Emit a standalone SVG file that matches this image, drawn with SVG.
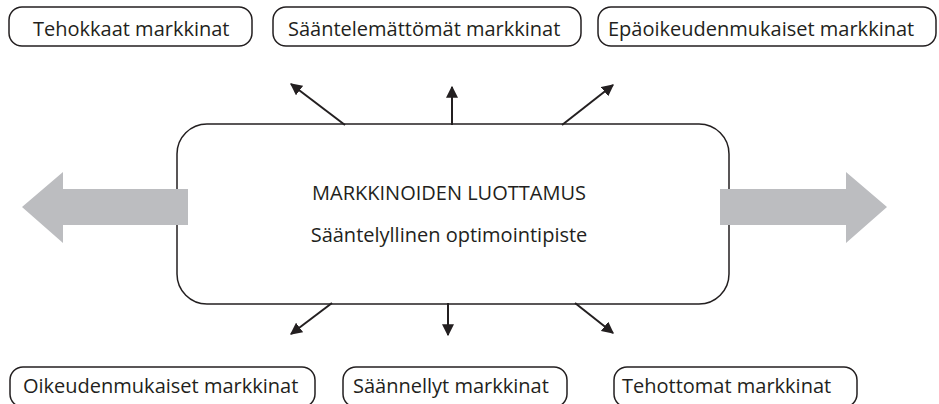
<svg xmlns="http://www.w3.org/2000/svg" width="939" height="404" viewBox="0 0 939 404">
<defs>
<style>
.box{fill:#fff;stroke:#231f20;stroke-width:1.5}
.lbl{font-family:"Open Sans","Noto Sans",sans-serif;font-size:20px;fill:#231f20}
.con{stroke:#231f20;stroke-width:2;fill:none;marker-end:url(#ah)}
.big{fill:#bcbdc0}
</style>
<marker id="ah" viewBox="0 0 10 10" refX="9" refY="5" markerWidth="6" markerHeight="6" orient="auto" markerUnits="strokeWidth">
<path d="M0,0 L10,5 L0,10 z" fill="#231f20"/>
</marker>
</defs>
<rect width="939" height="404" fill="#fff"/>
<g id="center">
<rect class="box" x="177" y="124" width="552" height="180" rx="30" ry="30" style="fill:none"/>
<text class="lbl" x="449" y="200" text-anchor="middle">MARKKINOIDEN LUOTTAMUS</text>
<text class="lbl" x="449" y="242" text-anchor="middle">Sääntelyllinen optimointipiste</text>
</g>
<g id="n1">
<rect class="box" x="9" y="7" width="243" height="39" rx="13"/>
<text class="lbl" x="33" y="36">Tehokkaat markkinat</text>
</g>
<g id="n2">
<rect class="box" x="273" y="7" width="308" height="39" rx="13"/>
<text class="lbl" x="288" y="36">Sääntelemättömät markkinat</text>
</g>
<g id="n3">
<rect class="box" x="598" y="7" width="338" height="39" rx="13"/>
<text class="lbl" x="608" y="36">Epäoikeudenmukaiset markkinat</text>
</g>
<g id="n4">
<rect class="box" x="10" y="367" width="305" height="40" rx="13"/>
<text class="lbl" x="23" y="393">Oikeudenmukaiset markkinat</text>
</g>
<g id="n5">
<rect class="box" x="343" y="367" width="224" height="40" rx="13"/>
<text class="lbl" x="353" y="393">Säännellyt markkinat</text>
</g>
<g id="n6">
<rect class="box" x="614" y="367" width="243" height="40" rx="13"/>
<text class="lbl" x="622" y="393">Tehottomat markkinat</text>
</g>
<g id="connectors">
<path class="big" d="M188,189 L63,189 L63,172 L22,207 L63,243 L63,225 L188,225 z"/>
<path class="big" d="M720,189 L846,189 L846,172 L887,207 L846,243 L846,225 L720,225 z"/>
<line class="con" x1="345" y1="125" x2="291" y2="84"/>
<line class="con" x1="452" y1="125" x2="452" y2="87"/>
<line class="con" x1="562" y1="125" x2="613" y2="85"/>
<line class="con" x1="332" y1="303" x2="291" y2="334"/>
<line class="con" x1="448" y1="303" x2="448" y2="335"/>
<line class="con" x1="575" y1="303" x2="613" y2="333"/>
</g>
</svg>
